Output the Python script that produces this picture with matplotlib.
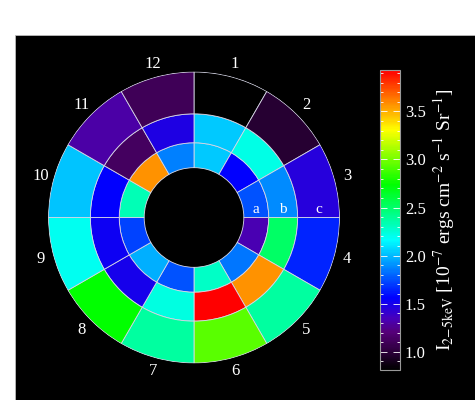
import numpy as np
import matplotlib
matplotlib.use('Agg')
import matplotlib.pyplot as plt
from matplotlib.colors import LinearSegmentedColormap, Normalize
from matplotlib.patches import Rectangle
import matplotlib.cm as cm

plt.rcParams['font.family'] = ['Liberation Serif', 'DejaVu Serif']
plt.rcParams['mathtext.fontset'] = 'stix'

# sector labels 1..12 (clockwise from top), rings a (inner), b, c (outer)
sectors = [str(i) for i in range(1, 13)]
rings = ['a', 'b', 'c']
ring_edges = [50, 75, 104, 146]

ring_a = [2.04, 1.56, 1.75, 1.33, 1.84, 2.29, 1.75, 1.98, 1.72, 2.33, 3.57, 1.87]
ring_b = [2.03, 2.22, 1.89, 2.51, 3.57, 3.92, 2.23, 1.50, 1.52, 1.56, 1.12, 1.47]
ring_c = [0.82, 0.98, 1.45, 1.65, 2.38, 2.94, 2.38, 2.74, 2.19, 2.02, 1.30, 1.10]

vmin, vmax = 0.81, 3.93

# rainbow-with-black colour table
cm_vals = [0.81, 1.0, 1.2, 1.35, 1.56, 2.16, 2.74, 3.31, 3.93]
cm_cols = [(0, 0, 0), (45, 0, 60), (85, 0, 120), (70, 0, 190), (0, 0, 255),
           (0, 255, 255), (0, 255, 0), (255, 255, 0), (255, 0, 0)]
cmap = LinearSegmentedColormap.from_list(
    'rainbow_black',
    [((v - vmin) / (vmax - vmin), tuple(c / 255 for c in col)) for v, col in zip(cm_vals, cm_cols)])
norm = Normalize(vmin, vmax)

fig = plt.figure(figsize=(4.75, 4.0), dpi=100)
fig.patch.set_facecolor('white')
# black panel
fig.patches.append(Rectangle((15 / 475, 0), 1, 365 / 400, transform=fig.transFigure,
                             facecolor='black', edgecolor='#bbbbbb', linewidth=0.6, zorder=-1))

ax = fig.add_axes([48 / 475, 36.5 / 400, 292 / 475, 292 / 400], projection='polar')
ax.set_theta_zero_location('N')
ax.set_theta_direction(-1)
ax.patch.set_alpha(0)
ax.axis('off')
ax.set_ylim(0, ring_edges[-1] + 0.5)

width = 2 * np.pi / 12
theta = (np.arange(12) + 0.5) * width
for k, vals in enumerate([ring_a, ring_b, ring_c]):
    ax.bar(theta, ring_edges[k + 1] - ring_edges[k], width=width, bottom=ring_edges[k],
           color=cmap(norm(np.array(vals))), edgecolor='#d8d8e8', linewidth=0.6)

for i, s in enumerate(sectors):
    ax.text(theta[i], 159, s, color='white', fontsize=12, ha='center', va='center')

for k, r in enumerate(rings):
    mid = (ring_edges[k] + ring_edges[k + 1]) / 2
    ax.annotate(r, xy=(np.pi / 2, mid), xytext=(0, 1), textcoords='offset points',
                color='white', fontsize=11, ha='center', va='bottom')

cax = fig.add_axes([380 / 475, 30 / 400, 20 / 475, 300 / 400])
sm = cm.ScalarMappable(norm=norm, cmap=cmap)
cb = fig.colorbar(sm, cax=cax)
cb.set_ticks([1.0, 1.5, 2.0, 2.5, 3.0, 3.5])
cb.ax.set_yticklabels(['1.0', '1.5', '2.0', '2.5', '3.0', '3.5'])
cb.ax.yaxis.set_minor_locator(matplotlib.ticker.MultipleLocator(0.1))
cb.ax.tick_params(which='both', direction='in', left=True, right=True, colors='white',
                  labelcolor='white', labelsize=12)
cb.ax.tick_params(which='major', length=5, width=0.6)
cb.ax.tick_params(which='minor', length=2.5, width=0.6)
cb.outline.set_edgecolor('#999999')
cb.outline.set_linewidth(0.8)
cb.set_label(r'I$_{\mathrm{2\!-\!5keV}}$ [10$^{-7}$ ergs cm$^{-2}$ s$^{-1}$ Sr$^{-1}$]',
             color='white', fontsize=14, labelpad=4)

fig.savefig('out.png', dpi=100, facecolor='white')
